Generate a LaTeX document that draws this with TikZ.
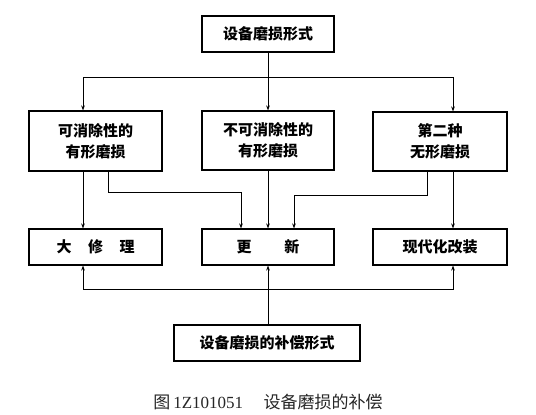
\documentclass[tikz,border=0pt]{standalone}
\usepackage{fontspec}
\setmainfont{Noto Sans CJK SC}
\newfontfamily\latserif{Liberation Serif}
\usetikzlibrary{arrows.meta}
\begin{document}
\begin{tikzpicture}[x=1pt,y=-1pt,
  box/.style={draw,line width=1.1pt,rectangle,inner sep=0pt,align=center,
    font=\fontsize{15}{21}\selectfont\bfseries},
  conn/.style={line width=0.8pt},
  arr/.style={conn,-{Stealth[length=5pt,width=3.6pt]}}]
\useasboundingbox (0,0) rectangle (536,415);
% boxes
\node[box,minimum width=132pt,minimum height=36pt] (top) at (268,34) {设备磨损形式};
\node[box,minimum width=133pt,minimum height=60pt] (L2) at (95.5,141) {可消除性的\\有形磨损};
\node[box,minimum width=132pt,minimum height=59pt] (M2) at (268,140.5) {不可消除性的\\有形磨损};
\node[box,minimum width=134pt,minimum height=59pt] (R2) at (440,141.5) {第二种\\无形磨损};
\node[box,minimum width=133pt,minimum height=36pt] (L3) at (95.5,247) {大\hspace{1.1em}修\hspace{1.1em}理};
\node[box,minimum width=132pt,minimum height=36pt] (M3) at (268,247) {更\hspace{2.2em}新};
\node[box,minimum width=134pt,minimum height=36pt] (R3) at (440,247) {现代化改装};
\node[box,minimum width=186pt,minimum height=36pt] (B) at (267,343) {设备磨损的补偿形式};
\node[font=\fontsize{17}{20}\selectfont,text=black!85] (cap) at (268,402)
  {图\,{\latserif 1Z101051}\hspace{1.2em}设备磨损的补偿};
% helper coordinates
\coordinate (xl) at (83,0);
\coordinate (xr) at (453,0);
\coordinate (xa) at (108,0);
\coordinate (xc) at (241,0);
\coordinate (xd) at (427,0);
\coordinate (xe) at (294,0);
\coordinate (j1) at (268,77);
\coordinate (ya) at (0,192);
\coordinate (yc) at (0,195);
\coordinate (j3) at (268,289);
% top distribution
\draw[arr] (top.south) -- (M2.north);
\draw[arr] (j1) -| (xl|-L2.north);
\draw[arr] (j1) -| (xr|-R2.north);
% row 2 to row 3
\draw[arr] (xl|-L2.south) -- (xl|-L3.north);
\draw[arr] (xa|-L2.south) -- (xa|-ya) -- (xc|-ya) -- (xc|-M3.north);
\draw[arr] (M2.south) -- (M3.north);
\draw[arr] (xd|-R2.south) -- (xd|-yc) -- (xe|-yc) -- (xe|-M3.north);
\draw[arr] (xr|-R2.south) -- (xr|-R3.north);
% bottom
\draw[arr] (B.north-|M3.south) -- (M3.south);
\draw[arr] (j3) -| (xl|-L3.south);
\draw[arr] (j3) -| (xr|-R3.south);
\end{tikzpicture}
\end{document}
